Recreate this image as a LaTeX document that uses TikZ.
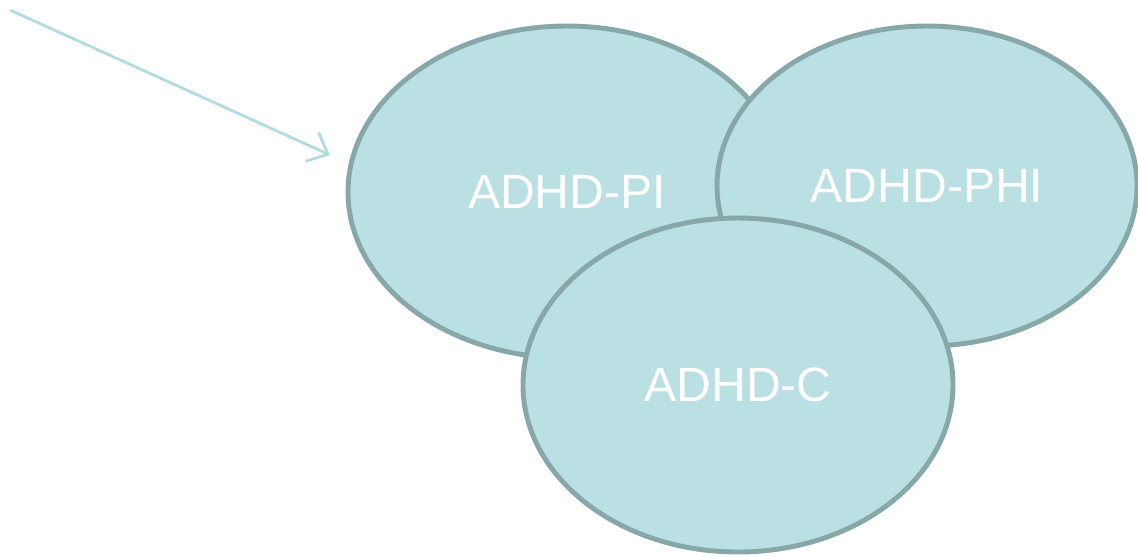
\documentclass[tikz,border=0pt]{standalone}
\usepackage{fontspec}
\setmainfont{Liberation Sans}
\usetikzlibrary{shapes.geometric, arrows.meta, positioning}
\definecolor{subfill}{HTML}{BAE0E3}
\definecolor{subline}{HTML}{87A7A8}
\definecolor{arrowline}{HTML}{B2DCE0}
\tikzset{
    subtype/.style = {draw = subline, fill = subfill, ellipse, line width = 1.4pt,
                      text = white, font = \fontsize{13.7}{16}\selectfont, inner sep = 0pt}
}

\begin{document}
\begin{tikzpicture}
                \useasboundingbox (0, 0) rectangle (11.38, -5.56);

                \node (PI)  [subtype, minimum width = 4.38cm, minimum height = 3.32cm] at (5.67, -1.92) { ADHD-PI };
                \node (PHI) [subtype, minimum width = 4.20cm, minimum height = 3.20cm] at (9.27, -1.86) { ADHD-PHI };
                \node (C)   [subtype, minimum width = 4.30cm, minimum height = 3.34cm] at (7.38, -3.85) { ADHD-C };

                \coordinate (start) at (0.10, -0.10);
                \coordinate (tip)   at (3.30, -1.55);
                \draw [arrowline, line width = 0.8pt, -{Straight Barb[length = 5pt, width = 9pt]}] (start) -- (tip);
            \end{tikzpicture}
\end{document}
